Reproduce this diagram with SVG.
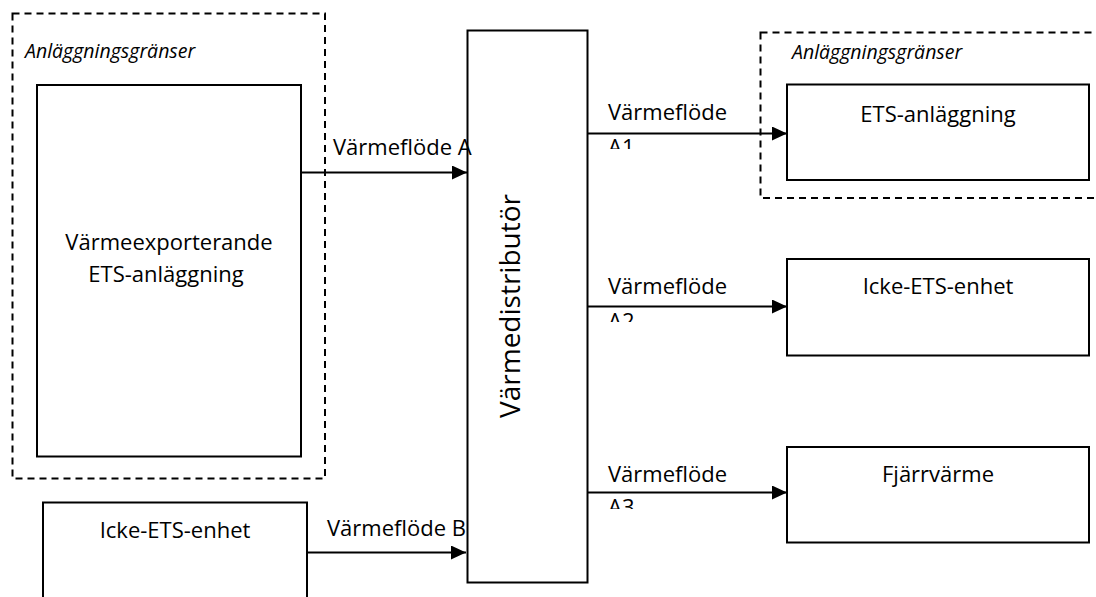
<svg xmlns="http://www.w3.org/2000/svg" width="1096" height="597" viewBox="0 0 1096 597">
  <style>
    .t { font-family: "Open Sans", "Noto Sans", sans-serif; font-size: 22px; fill: #000; }
    .c { text-anchor: middle; }
    .it { font-family: "Open Sans", "Noto Sans", sans-serif; font-size: 19.5px; font-style: italic; fill: #000; }
    .box { fill: #fff; stroke: #000; stroke-width: 2; }
    .bound { fill: none; stroke: #000; stroke-width: 2; stroke-dasharray: 7 5; }
    .conn { stroke: #000; stroke-width: 2; fill: none; }
  </style>
  <defs>
    <marker id="arrow" markerUnits="userSpaceOnUse" markerWidth="16" markerHeight="14" refX="15" refY="7" orient="auto">
      <path d="M0,0 L15,7 L0,14 z" fill="#000"/>
    </marker>
    <clipPath id="clipA1"><rect x="600" y="95" width="160" height="54"/></clipPath>
    <clipPath id="clipA2"><rect x="600" y="268" width="160" height="54"/></clipPath>
    <clipPath id="clipA3"><rect x="600" y="455" width="160" height="54"/></clipPath>
  </defs>

  <rect width="1096" height="597" fill="#fff"/>

  <g id="boundary-left">
    <rect class="bound" x="12.5" y="13.5" width="312.5" height="465"/>
    <text class="it" x="25" y="58">Anläggningsgränser</text>
  </g>

  <g id="boundary-right">
    <rect class="bound" x="760.5" y="32.5" width="360" height="165.5"/>
    <text class="it" x="792" y="59">Anläggningsgränser</text>
  </g>

  <g id="node-export">
    <rect class="box" x="37" y="85" width="264" height="371.5"/>
    <text class="t c" x="169" y="250">Värmeexporterande</text>
    <text class="t c" x="166" y="282">ETS-anläggning</text>
  </g>

  <g id="node-icke-left">
    <rect class="box" x="43" y="502.5" width="264" height="120"/>
    <text class="t c" x="175" y="538">Icke-ETS-enhet</text>
  </g>

  <g id="node-distributor">
    <rect class="box" x="467.5" y="30.5" width="120" height="552" stroke-width="1.5"/>
    <text class="t c" transform="translate(520,306) rotate(-90)" style="font-size:28px">Värmedistributör</text>
  </g>

  <g id="node-ets">
    <rect class="box" x="787" y="84.5" width="302" height="95.5"/>
    <text class="t c" x="938" y="122">ETS-anläggning</text>
  </g>

  <g id="node-icke-right">
    <rect class="box" x="787" y="259" width="302" height="96.5"/>
    <text class="t c" x="938" y="294">Icke-ETS-enhet</text>
  </g>

  <g id="node-fjarr">
    <rect class="box" x="787" y="447" width="302" height="95.5"/>
    <text class="t c" x="938" y="482">Fjärrvärme</text>
  </g>

  <g id="connectors">
    <line class="conn" x1="302" y1="172.5" x2="467" y2="172.5" marker-end="url(#arrow)"/>
    <text class="t" x="333" y="155">Värmeflöde A</text>

    <line class="conn" x1="307" y1="552.5" x2="466" y2="552.5" marker-end="url(#arrow)"/>
    <text class="t" x="327" y="536">Värmeflöde B</text>

    <line class="conn" x1="588" y1="133.5" x2="787" y2="133.5" marker-end="url(#arrow)"/>
    <g clip-path="url(#clipA1)">
      <text class="t" x="608" y="120">Värmeflöde</text>
      <text class="t" x="608" y="155">A1</text>
    </g>

    <line class="conn" x1="588" y1="306.5" x2="787" y2="306.5" marker-end="url(#arrow)"/>
    <g clip-path="url(#clipA2)">
      <text class="t" x="608" y="294">Värmeflöde</text>
      <text class="t" x="608" y="329">A2</text>
    </g>

    <line class="conn" x1="588" y1="492.5" x2="787" y2="492.5" marker-end="url(#arrow)"/>
    <g clip-path="url(#clipA3)">
      <text class="t" x="608" y="482">Värmeflöde</text>
      <text class="t" x="608" y="515">A3</text>
    </g>
  </g>
</svg>
